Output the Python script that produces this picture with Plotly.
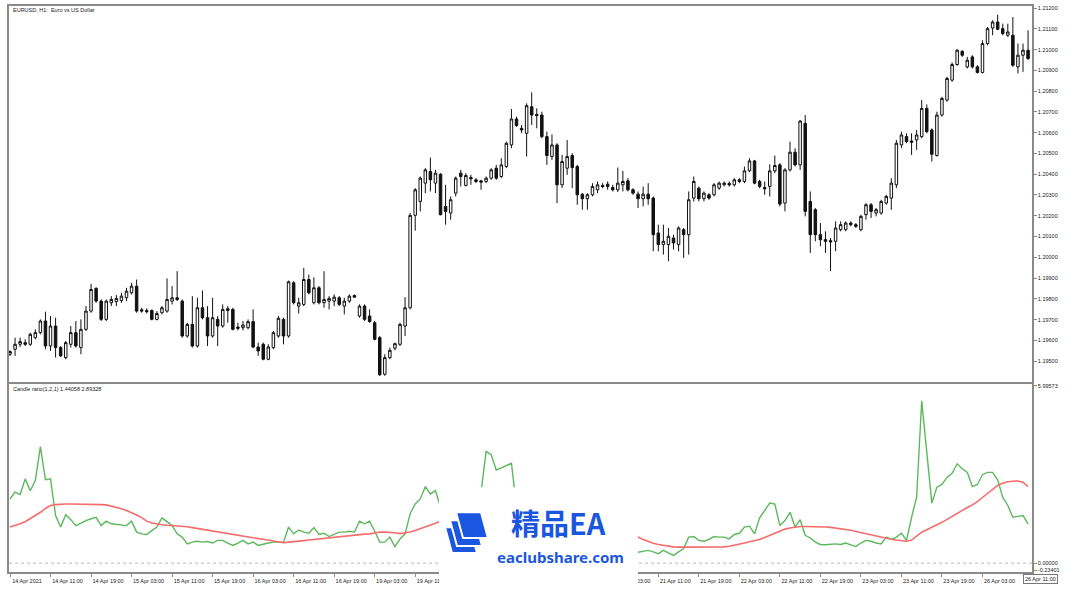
import plotly.graph_objects as go

# ---------------- data ----------------
sessions = [("2021-04-14", 3, 23), ("2021-04-15", 0, 23), ("2021-04-16", 0, 23),
            ("2021-04-19", 0, 23), ("2021-04-20", 0, 23), ("2021-04-21", 0, 23),
            ("2021-04-22", 0, 23), ("2021-04-23", 0, 23), ("2021-04-26", 0, 12)]
times = [f"{d} {h:02d}:00" for d, h0, h1 in sessions for h in range(h0, h1 + 1)]

opens = [1.19533,1.19557,1.19581,1.19589,1.19581,1.19613,1.19637,1.19693,1.19573,1.19669,
1.19565,1.19517,1.19581,1.19637,1.19565,1.19653,1.19741,1.19850,1.19789,1.19701,
1.19781,1.19786,1.19792,1.19805,1.19829,1.19861,1.19747,1.19744,1.19744,1.19701,
1.19733,1.19741,1.19789,1.19805,1.19789,1.19621,1.19677,1.19573,1.19757,1.19709,
1.19621,1.19701,1.19669,1.19752,1.19749,1.19664,1.19661,1.19661,1.19690,1.19568,
1.19581,1.19509,1.19565,1.19621,1.19701,1.19621,1.19877,1.19765,1.19773,1.19893,
1.19781,1.19853,1.19781,1.19789,1.19789,1.19805,1.19765,1.19789,1.19816,1.19717,
1.19765,1.19717,1.19685,1.19613,1.19437,1.19517,1.19562,1.19581,1.19669,1.19757,
1.20202,1.20269,1.20357,1.20413,1.20357,1.20400,1.20245,1.20213,1.20309,1.20405,
1.20346,1.20384,1.20373,1.20368,1.20365,1.20381,1.20429,1.20389,1.20437,1.20541,
1.20666,1.20621,1.20597,1.20725,1.20688,1.20685,1.20581,1.20485,1.20541,1.20349,
1.20429,1.20490,1.20437,1.20304,1.20282,1.20301,1.20325,1.20346,1.20352,1.20336,
1.20325,1.20349,1.20368,1.20325,1.20304,1.20282,1.20304,1.20285,1.20117,1.20061,
1.20061,1.20093,1.20061,1.20133,1.20109,1.20285,1.20333,1.20282,1.20301,1.20301,
1.20333,1.20349,1.20355,1.20349,1.20373,1.20365,1.20416,1.20464,1.20365,1.20336,
1.20341,1.20416,1.20445,1.20261,1.20421,1.20506,1.20445,1.20645,1.20269,1.20229,
1.20109,1.20085,1.20080,1.20077,1.20133,1.20133,1.20165,1.20157,1.20133,1.20205,
1.20253,1.20213,1.20213,1.20261,1.20285,1.20349,1.20541,1.20581,1.20560,1.20565,
1.20581,1.20717,1.20613,1.20490,1.20685,1.20757,1.20853,1.20928,1.20992,1.20917,
1.20965,1.20917,1.20890,1.21029,1.21104,1.21133,1.21101,1.21069,1.21069,1.20917,
1.20973,1.20997]
highs = [1.19552,1.19613,1.19613,1.19605,1.19637,1.19653,1.19701,1.19738,1.19717,1.19709,
1.19573,1.19597,1.19669,1.19693,1.19701,1.19765,1.19872,1.19856,1.19797,1.19797,
1.19813,1.19818,1.19829,1.19853,1.19877,1.19893,1.19757,1.19754,1.19749,1.19741,
1.19765,1.19898,1.19861,1.19933,1.19797,1.19685,1.19813,1.19805,1.19840,1.19765,
1.19805,1.19717,1.19773,1.19765,1.19757,1.19685,1.19693,1.19701,1.19749,1.19589,
1.19589,1.19581,1.19645,1.19717,1.19709,1.19888,1.19885,1.19805,1.19949,1.19917,
1.19904,1.19861,1.19933,1.19813,1.19821,1.19813,1.19805,1.19821,1.19821,1.19773,
1.19773,1.19749,1.19693,1.19621,1.19533,1.19565,1.19589,1.19685,1.19808,1.20213,
1.20333,1.20389,1.20429,1.20480,1.20421,1.20405,1.20349,1.20293,1.20389,1.20421,
1.20405,1.20397,1.20381,1.20373,1.20389,1.20429,1.20445,1.20477,1.20557,1.20714,
1.20677,1.20637,1.20741,1.20794,1.20717,1.20701,1.20605,1.20592,1.20549,1.20493,
1.20565,1.20501,1.20445,1.20309,1.20309,1.20357,1.20365,1.20357,1.20365,1.20349,
1.20432,1.20416,1.20381,1.20333,1.20317,1.20341,1.20357,1.20293,1.20157,1.20157,
1.20141,1.20109,1.20149,1.20141,1.20317,1.20389,1.20341,1.20317,1.20309,1.20357,
1.20365,1.20365,1.20365,1.20381,1.20381,1.20437,1.20477,1.20469,1.20373,1.20365,
1.20448,1.20490,1.20453,1.20429,1.20557,1.20525,1.20661,1.20685,1.20317,1.20237,
1.20165,1.20125,1.20093,1.20173,1.20173,1.20173,1.20173,1.20165,1.20205,1.20261,
1.20261,1.20237,1.20277,1.20301,1.20381,1.20565,1.20605,1.20597,1.20597,1.20613,
1.20757,1.20736,1.20621,1.20701,1.20773,1.20869,1.20938,1.21002,1.20997,1.20965,
1.20973,1.20925,1.21045,1.21109,1.21141,1.21168,1.21125,1.21125,1.21157,1.21029,
1.21029,1.21093]
lows = [1.19525,1.19525,1.19568,1.19573,1.19573,1.19605,1.19629,1.19557,1.19549,1.19517,
1.19520,1.19509,1.19565,1.19565,1.19533,1.19645,1.19733,1.19781,1.19693,1.19693,
1.19765,1.19765,1.19781,1.19789,1.19821,1.19733,1.19733,1.19729,1.19696,1.19696,
1.19725,1.19733,1.19773,1.19789,1.19613,1.19613,1.19565,1.19565,1.19701,1.19573,
1.19613,1.19573,1.19661,1.19685,1.19648,1.19648,1.19648,1.19653,1.19562,1.19525,
1.19504,1.19504,1.19557,1.19613,1.19581,1.19613,1.19773,1.19729,1.19765,1.19821,
1.19773,1.19773,1.19757,1.19749,1.19765,1.19765,1.19725,1.19781,1.19805,1.19709,
1.19693,1.19685,1.19600,1.19429,1.19429,1.19509,1.19552,1.19573,1.19621,1.19749,
1.20128,1.20221,1.20309,1.20317,1.20309,1.20202,1.20157,1.20181,1.20293,1.20341,
1.20341,1.20349,1.20357,1.20325,1.20357,1.20373,1.20373,1.20381,1.20429,1.20525,
1.20629,1.20597,1.20485,1.20637,1.20621,1.20573,1.20445,1.20469,1.20261,1.20333,
1.20397,1.20333,1.20253,1.20229,1.20229,1.20293,1.20309,1.20333,1.20325,1.20317,
1.20314,1.20317,1.20317,1.20301,1.20237,1.20245,1.20253,1.20029,1.20029,1.20013,
1.19981,1.20037,1.20029,1.19997,1.20013,1.20269,1.20269,1.20269,1.20277,1.20293,
1.20325,1.20341,1.20341,1.20341,1.20357,1.20357,1.20410,1.20352,1.20333,1.20301,
1.20293,1.20405,1.20245,1.20221,1.20413,1.20437,1.20421,1.20197,1.20021,1.20077,
1.20053,1.20021,1.19933,1.20029,1.20125,1.20125,1.20149,1.20141,1.20125,1.20181,
1.20189,1.20197,1.20205,1.20253,1.20229,1.20333,1.20525,1.20549,1.20493,1.20517,
1.20573,1.20597,1.20461,1.20485,1.20677,1.20749,1.20845,1.20922,1.20965,1.20909,
1.20909,1.20885,1.20885,1.21021,1.21069,1.21093,1.21069,1.21061,1.20917,1.20885,
1.20893,1.20949]
closes = [1.19546,1.19581,1.19594,1.19581,1.19629,1.19637,1.19693,1.19573,1.19669,1.19565,
1.19525,1.19589,1.19637,1.19573,1.19653,1.19741,1.19845,1.19789,1.19701,1.19789,
1.19797,1.19802,1.19813,1.19837,1.19861,1.19741,1.19741,1.19738,1.19701,1.19729,
1.19757,1.19797,1.19805,1.19797,1.19621,1.19677,1.19573,1.19757,1.19709,1.19621,
1.19709,1.19669,1.19749,1.19744,1.19653,1.19658,1.19674,1.19690,1.19568,1.19549,
1.19509,1.19568,1.19637,1.19706,1.19621,1.19882,1.19781,1.19781,1.19893,1.19829,
1.19853,1.19781,1.19797,1.19802,1.19808,1.19773,1.19789,1.19813,1.19808,1.19765,
1.19701,1.19690,1.19605,1.19434,1.19517,1.19552,1.19584,1.19677,1.19757,1.20202,
1.20325,1.20381,1.20421,1.20373,1.20405,1.20205,1.20221,1.20277,1.20381,1.20389,
1.20394,1.20378,1.20365,1.20362,1.20381,1.20421,1.20381,1.20445,1.20549,1.20666,
1.20634,1.20613,1.20730,1.20685,1.20682,1.20581,1.20490,1.20541,1.20349,1.20461,
1.20485,1.20432,1.20301,1.20282,1.20301,1.20341,1.20349,1.20341,1.20341,1.20325,
1.20357,1.20365,1.20325,1.20309,1.20282,1.20304,1.20282,1.20109,1.20061,1.20077,
1.20101,1.20069,1.20141,1.20109,1.20277,1.20365,1.20282,1.20309,1.20285,1.20349,
1.20357,1.20357,1.20349,1.20373,1.20365,1.20416,1.20464,1.20357,1.20341,1.20330,
1.20416,1.20442,1.20256,1.20421,1.20506,1.20445,1.20656,1.20221,1.20109,1.20109,
1.20085,1.20077,1.20074,1.20141,1.20157,1.20165,1.20157,1.20149,1.20197,1.20253,
1.20221,1.20229,1.20269,1.20293,1.20357,1.20549,1.20589,1.20557,1.20554,1.20589,
1.20717,1.20605,1.20496,1.20685,1.20765,1.20861,1.20928,1.20997,1.20973,1.20949,
1.20917,1.20890,1.21029,1.21101,1.21133,1.21098,1.21077,1.21085,1.20925,1.20973,
1.20997,1.20957]

ratio = [2.17,2.40,2.32,2.85,2.45,2.79,3.94,2.82,2.85,1.61,
1.22,1.64,1.47,1.27,1.35,1.44,1.50,1.55,1.27,1.42,
1.33,1.31,1.31,1.27,1.42,1.05,0.99,0.97,1.10,1.22,
1.53,1.39,1.27,0.99,0.88,0.65,0.71,0.74,0.71,0.73,
0.68,0.77,0.77,0.68,0.60,0.68,0.77,0.65,0.71,0.60,
0.65,0.68,0.71,0.71,0.71,1.22,0.99,1.12,1.05,1.01,
1.20,0.97,1.01,0.90,0.97,1.05,1.05,1.08,1.05,1.42,
1.33,1.42,1.08,0.71,0.71,0.88,0.56,0.82,0.99,1.67,
2.00,2.17,2.59,2.34,2.45,1.90,1.60,1.30,1.00,1.10,
0.90,1.20,1.60,2.40,3.78,3.67,3.15,3.22,3.30,3.38,
1.90,1.50,1.20,1.40,1.10,0.90,1.20,1.50,1.30,1.60,
1.40,1.10,0.90,1.00,0.80,0.70,0.60,0.50,0.60,0.50,
0.55,0.60,0.50,0.45,0.37,0.40,0.43,0.38,0.32,0.43,
0.35,0.26,0.38,0.49,0.88,0.90,0.77,0.74,0.80,0.90,
0.88,0.88,0.82,0.97,1.01,1.22,1.25,0.99,1.53,1.78,
2.03,2.00,1.27,1.44,1.72,1.22,1.47,0.94,0.85,0.71,
0.63,0.62,0.63,0.65,0.63,0.68,0.62,0.56,0.68,0.77,
0.74,0.68,0.65,0.88,0.80,0.88,1.01,0.77,1.55,2.23,
5.49,3.80,2.03,2.57,2.66,2.90,3.04,3.36,3.19,3.07,
2.59,2.66,2.99,3.07,3.07,2.82,2.23,1.95,1.55,1.58,
1.61,1.33]
ratio_ma = [1.22,1.27,1.33,1.40,1.50,1.60,1.72,1.85,1.95,1.98,
2.00,2.00,2.00,2.00,2.00,2.00,2.00,1.99,1.98,1.97,
1.93,1.89,1.84,1.78,1.71,1.63,1.54,1.42,1.36,1.32,
1.30,1.28,1.27,1.26,1.25,1.23,1.20,1.17,1.14,1.11,
1.08,1.05,1.02,0.99,0.96,0.93,0.90,0.88,0.86,0.83,
0.81,0.78,0.75,0.72,0.69,0.71,0.72,0.74,0.76,0.78,
0.80,0.82,0.84,0.86,0.88,0.90,0.92,0.94,0.96,0.97,
0.98,0.99,1.02,1.05,1.05,1.05,1.03,1.00,1.02,1.05,
1.10,1.16,1.21,1.27,1.35,1.42,1.48,1.52,1.55,1.57,
1.58,1.58,1.60,1.65,1.72,1.80,1.86,1.92,1.97,2.02,
2.04,2.05,2.04,2.02,1.98,1.93,1.87,1.80,1.73,1.66,
1.58,1.50,1.43,1.36,1.28,1.22,1.16,1.10,1.05,1.01,
0.97,0.94,0.92,0.90,0.88,0.80,0.73,0.67,0.63,0.60,
0.57,0.55,0.54,0.54,0.54,0.54,0.54,0.54,0.54,0.54,
0.54,0.55,0.57,0.60,0.64,0.68,0.72,0.76,0.80,0.87,
0.94,1.01,1.08,1.15,1.19,1.22,1.24,1.24,1.24,1.24,
1.23,1.22,1.21,1.19,1.17,1.14,1.11,1.07,1.03,0.99,
0.95,0.91,0.87,0.84,0.81,0.78,0.76,0.74,0.78,0.92,
1.05,1.13,1.21,1.29,1.38,1.48,1.58,1.70,1.80,1.88,
1.97,2.08,2.22,2.36,2.50,2.63,2.70,2.75,2.77,2.78,
2.74,2.59]

price_labels = ["1.21200","1.21100","1.21000","1.20900","1.20800","1.20700","1.20600",
                "1.20500","1.20400","1.20300","1.20200","1.20100","1.20000","1.19900",
                "1.19800","1.19700","1.19600","1.19500"]
ind_labels = ["5.99573", "0.00000", "-0.23401"]
time_labels = ["14 Apr 2021","14 Apr 11:00","14 Apr 19:00","15 Apr 03:00","15 Apr 11:00",
               "15 Apr 19:00","16 Apr 03:00","16 Apr 11:00","16 Apr 19:00","19 Apr 03:00",
               "19 Apr 11:00","19 Apr 19:00","20 Apr 03:00","20 Apr 11:00","20 Apr 19:00",
               "21 Apr 03:00","21 Apr 11:00","21 Apr 19:00","22 Apr 03:00","22 Apr 11:00",
               "22 Apr 19:00","23 Apr 03:00","23 Apr 11:00","23 Apr 19:00","26 Apr 03:00",
               "26 Apr 11:00"]
title_text = "EURUSD, H1:  Euro vs US Dollar"
ind_text = "Candle ratio(1,2,1) 1.44058 2.89328"

# ---------------- figure ----------------
W, H = 1079, 592
ML, MR, MT, MB = 9, 47, 4, 20
PW, PH = W - ML - MR, H - MT - MB
px_per_bar = 5.065

def px_x(px):
    return (px - ML) / PW

def px_y(py):
    return (H - MB - py) / PH

FONT = "Liberation Sans"
AX = "#8a8a8a"
TXT = "#222222"

fig = go.Figure()
fig.add_trace(go.Candlestick(
    x=times, open=opens, high=highs, low=lows, close=closes,
    increasing=dict(fillcolor="white", line=dict(color="#111111", width=1)),
    decreasing=dict(fillcolor="#111111", line=dict(color="#111111", width=1)),
    whiskerwidth=0, xaxis="x", yaxis="y", hoverinfo="skip", showlegend=False))
fig.add_trace(go.Scatter(x=times, y=ratio, mode="lines", line=dict(color="#5cb85c", width=1.4),
                         xaxis="x2", yaxis="y2", hoverinfo="skip", showlegend=False))
fig.add_trace(go.Scatter(x=times, y=ratio_ma, mode="lines", line=dict(color="#f76b6b", width=1.6),
                         xaxis="x2", yaxis="y2", hoverinfo="skip", showlegend=False))

tick_idx = [times.index(t) for t in times if t.endswith(("03:00", "11:00", "19:00"))][:len(time_labels)]
tick_text = list(time_labels)
tick_text[-1] = ""

x_range = [-(10 - ML) / px_per_bar, -(10 - ML) / px_per_bar + PW / px_per_bar]
xcommon = dict(type="category", categoryorder="array", categoryarray=times, range=x_range,
               showgrid=False, zeroline=False, showline=True, mirror=True,
               linecolor=AX, linewidth=1.5, rangeslider=dict(visible=False))

fig.update_layout(
    width=W, height=H, margin=dict(l=ML, r=MR, t=MT, b=MB),
    paper_bgcolor="white", plot_bgcolor="white",
    font=dict(family=FONT, size=6, color=TXT),
    xaxis=dict(domain=[0, 1], anchor="y", showticklabels=False, ticks="", **xcommon),
    xaxis2=dict(domain=[0, 1], anchor="y2", matches="x", tickvals=[times[i] for i in tick_idx],
                ticktext=tick_text, ticks="outside", ticklen=3, tickcolor=AX,
                tickfont=dict(family=FONT, size=5.5, color=TXT), ticklabelshift=17,
                tickangle=0, **xcommon),
    yaxis=dict(domain=[px_y(381), 1], anchor="x", side="right", range=[1.19401, 1.21210],
               tickvals=[float(v) for v in price_labels], ticktext=price_labels,
               ticks="outside", ticklen=3, tickcolor=AX, showgrid=False, zeroline=False,
               showline=True, mirror=True, linecolor=AX, linewidth=1.5,
               tickfont=dict(family=FONT, size=5.5, color=TXT)),
    yaxis2=dict(domain=[0, px_y(383)], anchor="x2", side="right", range=[-0.30, 6.07],
                tickvals=[float(v) for v in ind_labels], ticktext=ind_labels,
                ticks="outside", ticklen=3, tickcolor=AX, showgrid=False, zeroline=False,
                showline=True, mirror=True, linecolor=AX, linewidth=1.5,
                tickfont=dict(family=FONT, size=5.5, color=TXT)),
)

shapes = [dict(type="line", xref="x2 domain", yref="y2", x0=0, x1=1, y0=0, y1=0,
               line=dict(color="#b5b5b5", width=1, dash="dot"), layer="below")]

# watermark overlay
BLUE = "#1a56e0"
shapes.append(dict(type="rect", xref="paper", yref="paper", x0=px_x(439), x1=px_x(638),
                   y0=px_y(592), y1=px_y(487), fillcolor="white", line=dict(width=0), layer="above"))

def block(dx, dy):
    pts = [(456 + dx, 512 + dy), (481 + dx, 512 + dy), (488 + dx, 538 + dy), (463 + dx, 538 + dy)]
    path = "M " + " L ".join(f"{px_x(a):.5f},{px_y(b):.5f}" for a, b in pts) + " Z"
    return dict(type="path", xref="paper", yref="paper", path=path, fillcolor=BLUE,
                line=dict(color="white", width=2), layer="above")

for d in [(-11, 15), (-6, 8), (0, 0)]:
    shapes.append(block(*d))
fig.update_layout(shapes=shapes)

ann = [
    dict(text=title_text, xref="paper", yref="paper", x=px_x(11), y=px_y(8), xanchor="left",
         yanchor="middle", showarrow=False, font=dict(family=FONT, size=5.5, color=TXT)),
    dict(text=ind_text, xref="paper", yref="paper", x=px_x(11), y=px_y(388), xanchor="left",
         yanchor="middle", showarrow=False, font=dict(family=FONT, size=5.5, color=TXT)),
    dict(text=time_labels[-1], xref="x2", yref="paper", x=times[tick_idx[-1]], y=px_y(574),
         xanchor="left", yanchor="top", showarrow=False, bgcolor="white", bordercolor="#777777",
         borderwidth=1, borderpad=1, font=dict(family=FONT, size=5.5, color=TXT)),
    dict(text="<b>精品EA</b>", xref="paper", yref="paper", x=px_x(558), y=px_y(522),
         xanchor="center", yanchor="middle", showarrow=False, borderpad=0,
         font=dict(family="Noto Sans CJK SC", size=29, color=BLUE)),
    dict(text="<b>eaclubshare.com</b>", xref="paper", yref="paper", x=px_x(560), y=px_y(557),
         xanchor="center", yanchor="middle", showarrow=False, borderpad=0,
         font=dict(family="Noto Sans", size=15, color=BLUE)),
]
fig.update_layout(annotations=ann)

fig.write_html("out.html", config={"displayModeBar": False},
               post_script="document.body.style.margin='0';document.body.style.overflow='hidden';")
